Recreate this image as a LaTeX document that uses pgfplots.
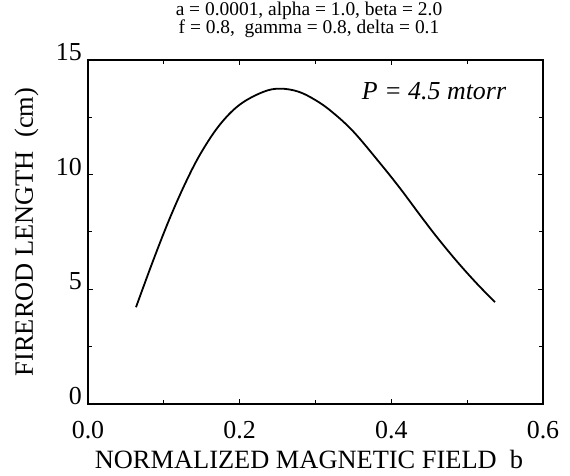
\documentclass[border=0pt]{standalone}
\usepackage{pgfplots}
\pgfplotsset{compat=1.18}
\usepackage{fontspec}
\setmainfont{Liberation Serif}
\begin{document}
\begin{tikzpicture}
\path[use as bounding box] (-88bp,-72bp) rectangle (482bp,404bp);
\begin{axis}[
  scale only axis,
  width=455bp, height=344bp,
  xmin=0, xmax=0.6, ymin=0, ymax=15,
  axis line style={line width=1.8bp},
  xtick={0,0.2,0.4,0.6}, ytick={0,5,10,15},
  minor x tick num=1, minor y tick num=1,
  tick align=inside, tick pos=both,
  major tick length=5bp, minor tick length=4bp,
  tick style={line width=1bp, black},
  /pgf/number format/assume math mode=true,
  xticklabel style={/pgf/number format/fixed, /pgf/number format/fixed zerofill, /pgf/number format/precision=1, font=\fontsize{26}{30}\selectfont, inner sep=0pt, yshift=-17bp},
  yticklabel style={font=\fontsize{26}{30}\selectfont, anchor=south east, inner sep=0pt, xshift=-6bp, yshift=-1bp},
  xlabel={NORMALIZED MAGNETIC FIELD\ \ b},
  ylabel={FIREROD LENGTH\ \ (cm)},
  xlabel style={font=\fontsize{26.5}{30}\selectfont, at={(axis description cs:0.4857,0)}, anchor=north, inner sep=0pt, yshift=-46bp},
  ylabel style={font=\fontsize{26.5}{30}\selectfont, at={(axis description cs:-0.1086,0.5)}, anchor=south, inner sep=0pt},
  title={a = 0.0001, alpha = 1.0, beta = 2.0\\f = 0.8,\ \ gamma = 0.8, delta = 0.1},
  title style={font=\fontsize{19.5}{18.5}\selectfont, align=center, at={(axis description cs:0.4857,1)}, anchor=south, inner sep=0pt, yshift=16bp},
]
\addplot[black, line width=1.8bp, smooth, tension=0.6] coordinates {
  (0.0633,4.22) (0.0862,6.28) (0.1081,8.12) (0.1301,9.75) (0.1499,11.00)
  (0.1741,12.19) (0.2004,13.06) (0.2312,13.61) (0.2532,13.75) (0.2774,13.62)
  (0.3000,13.25) (0.3213,12.75) (0.3499,11.88) (0.3851,10.50) (0.4114,9.41)
  (0.4378,8.24) (0.4598,7.29) (0.4862,6.23) (0.5125,5.26) (0.5367,4.44)
};
\node[anchor=base west, inner sep=0pt, font=\fontsize{26}{30}\selectfont\itshape] at (axis cs:0.361,13.26) {P = 4.5 mtorr};
\end{axis}
\end{tikzpicture}
\end{document}
